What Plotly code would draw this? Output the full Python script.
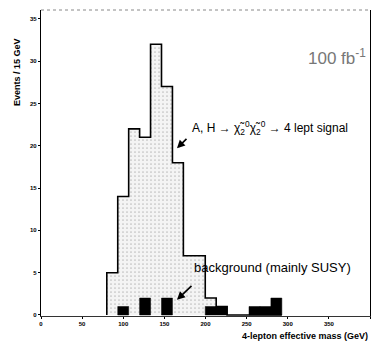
import plotly.graph_objects as go

# Data
bin_start = 80.0       # GeV, left edge of first bin
bin_width = 13.3       # GeV
signal = [5, 14, 22, 21, 32, 27, 18, 7, 7, 2, 1, 0, 0, 0, 0, 0]
background = [0, 1, 0, 2, 0, 2, 0, 0, 0, 1, 1, 0, 0, 1, 1, 2]
x_ticks = [0, 50, 100, 150, 200, 250, 300, 350, 400]
y_ticks = [0, 5, 10, 15, 20, 25, 30, 35]

n = len(signal)
edges = [bin_start + i * bin_width for i in range(n + 1)]

# step outline for signal
sx = [edges[0]]
sy = [0]
for i in range(n):
    sx += [edges[i], edges[i + 1]]
    sy += [signal[i], signal[i]]
sx.append(edges[-1])
sy.append(0)

# background bars as closed polygons (drawn above the signal fill)
bx, by = [], []
for i in range(n):
    if background[i] > 0:
        bx += [edges[i], edges[i], edges[i + 1], edges[i + 1], edges[i], None]
        by += [0, background[i], background[i], 0, 0, None]

fig = go.Figure()
fig.add_trace(go.Scatter(
    x=sx, y=sy, mode="lines", fill="tozeroy",
    fillcolor="#f2f2f2",
    fillpattern=dict(shape=".", fgcolor="#8a8a8a", bgcolor="#f4f4f4", size=4, solidity=0.15),
    line=dict(color="black", width=1.6), showlegend=False, hoverinfo="skip"))
fig.add_trace(go.Scatter(
    x=bx, y=by, mode="lines", fill="toself", fillcolor="black",
    line=dict(color="black", width=0.5), showlegend=False, hoverinfo="skip"))

tickfont = dict(family="Liberation Sans, Arial", size=6, color="black", weight="bold")
fig.update_layout(
    width=371, height=351,
    margin=dict(l=41, r=1, t=10, b=35),
    paper_bgcolor="white", plot_bgcolor="white",
    xaxis=dict(range=[0, 400], tickvals=x_ticks, ticktext=[str(v) for v in x_ticks],
               showgrid=False, zeroline=False, showline=True, linecolor="#333", linewidth=1,
               ticks="outside", ticklen=2, tickcolor="black", tickfont=tickfont),
    yaxis=dict(range=[-0.12, 36.05], tickvals=y_ticks, ticktext=[str(v) for v in y_ticks],
               showgrid=False, zeroline=False, showline=True, linecolor="black", linewidth=1.2,
               mirror=True, ticks="outside", ticklen=2, tickcolor="black", tickfont=tickfont),
)

# dotted top frame
fig.add_shape(type="line", xref="paper", yref="paper", x0=0, x1=1, y0=1, y1=1,
              line=dict(color="#888", width=1, dash="dot"))

afont = dict(family="Liberation Sans, Arial", color="black")
fig.add_annotation(text="Events / 15 GeV", xref="paper", yref="paper",
                   x=-0.094, y=0.915, textangle=-90, showarrow=False,
                   font=dict(family="Liberation Sans, Arial", size=9, color="black", weight="bold"))
fig.add_annotation(text="4-lepton effective mass (GeV)", xref="paper", yref="paper",
                   x=1.0, y=-0.088, xanchor="right", showarrow=False,
                   font=dict(family="Liberation Sans, Arial", size=9, color="black", weight="bold"))
fig.add_annotation(text="100 fb<sup>-1</sup>", xref="paper", yref="paper",
                   x=0.995, y=0.89, xanchor="right", showarrow=False,
                   font=dict(family="Liberation Sans, Arial", size=17, color="#777"))
fig.add_annotation(text="A, H \u2192 \u03c7\u0303<sub>2</sub><sup>0</sup>\u03c7\u0303<sub>2</sub><sup>0</sup> \u2192 4 lept signal",
                   xref="x", yref="y", x=181, y=22.1, xanchor="left", showarrow=False,
                   font=dict(size=12, **afont))
fig.add_annotation(xref="x", yref="y", x=165.3, y=19.7, ax=178.7, ay=21.0,
                   axref="x", ayref="y", text="", showarrow=True,
                   arrowhead=2, arrowsize=1, arrowwidth=1.6, arrowcolor="black")
fig.add_annotation(text="background (mainly SUSY)",
                   xref="x", yref="y", x=183, y=5.6, xanchor="left", showarrow=False,
                   font=dict(size=13, **afont))
fig.add_annotation(xref="x", yref="y", x=165.3, y=1.8, ax=184.8, ay=3.6,
                   axref="x", ayref="y", text="", showarrow=True,
                   arrowhead=2, arrowsize=1, arrowwidth=1.6, arrowcolor="black")

fig.write_html("out.html")
